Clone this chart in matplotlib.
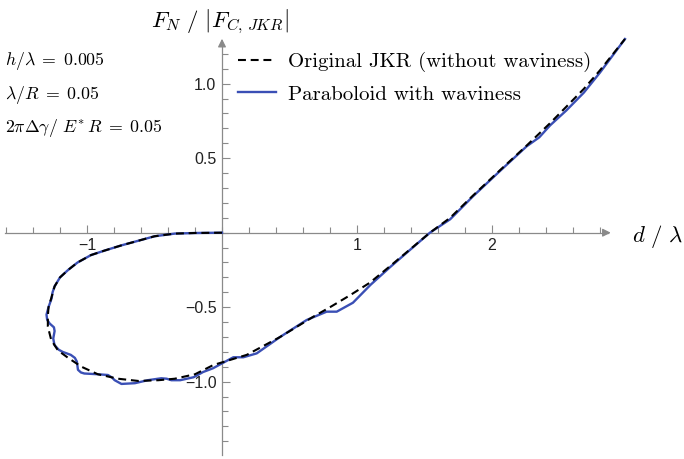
import numpy as np
import matplotlib
matplotlib.use("Agg")
import matplotlib.pyplot as plt
from matplotlib.ticker import FixedLocator

plt.rcParams['mathtext.fontset'] = 'cm'

# courbe JKR sans ondulation
d_jkr = [0.0, -0.20, -0.35, -0.50, -0.62, -0.745, -0.87, -0.97, -1.07, -1.14, -1.20,
         -1.24, -1.265, -1.285, -1.29, -1.29, -1.265, -1.215, -1.14, -1.04, -0.92,
         -0.77, -0.62, -0.47, -0.35, -0.20, -0.064, 0.183, 0.43, 0.676, 0.80,
         0.948, 1.096, 1.244, 1.393, 1.54, 1.69, 1.86, 2.06, 2.257, 2.43, 2.55,
         2.68, 2.80, 2.985]
f_jkr = [0.0, -0.002, -0.006, -0.024, -0.054, -0.085, -0.12, -0.15, -0.20, -0.25, -0.30,
         -0.36, -0.44, -0.50, -0.56, -0.63, -0.72, -0.79, -0.84, -0.90, -0.95,
         -0.98, -0.995, -0.99, -0.98, -0.95, -0.888, -0.82, -0.70, -0.564, -0.50,
         -0.42, -0.335, -0.225, -0.112, 0.0, 0.10, 0.25, 0.42, 0.585, 0.735, 0.845,
         0.965, 1.09, 1.30]

# paraboloide avec ondulation
d_wav = [0.0, -0.20, -0.35, -0.50, -0.62, -0.745, -0.87, -0.97, -1.07, -1.14, -1.20,
         -1.24, -1.255, -1.262, -1.285, -1.30, -1.295, -1.276, -1.245, -1.24, -1.25,
         -1.245, -1.24, -1.21, -1.18, -1.12, -1.09, -1.075, -1.067, -1.045, -1.02,
         -0.92, -0.845, -0.815, -0.795, -0.745, -0.645, -0.55, -0.45, -0.41, -0.375,
         -0.31, -0.21, -0.14, -0.067, 0.084, 0.158, 0.257, 0.43, 0.627, 0.775, 0.85,
         0.97, 1.10, 1.244, 1.393, 1.54, 1.69, 1.86, 2.06, 2.257, 2.35, 2.43, 2.55,
         2.68, 2.80, 2.985]
f_wav = [0.0, -0.002, -0.006, -0.024, -0.054, -0.085, -0.12, -0.15, -0.20, -0.25, -0.30,
         -0.36, -0.40, -0.44, -0.50, -0.55, -0.585, -0.61, -0.635, -0.66, -0.71,
         -0.735, -0.755, -0.785, -0.80, -0.82, -0.84, -0.865, -0.92, -0.938, -0.945,
         -0.95, -0.955, -0.972, -0.99, -1.015, -1.01, -0.99, -0.977, -0.98, -0.99,
         -0.99, -0.97, -0.935, -0.91, -0.836, -0.836, -0.81, -0.70, -0.586, -0.53, -0.53,
         -0.47, -0.35, -0.232, -0.115, 0.0, 0.09, 0.245, 0.415, 0.58, 0.64, 0.72, 0.82,
         0.94, 1.075, 1.30]

xticks = [-1, 1, 2]
xlabels = ['\u22121', '1', '2']
yticks = [-1.0, -0.5, 0.5, 1.0]
ylabels = ['\u22121.0', '\u22120.5', '0.5', '1.0']

W, H = 684, 459
fig = plt.figure(figsize=(W/100, H/100), dpi=100)
ax = fig.add_axes([0, 0, 1, 1])
ax.patch.set_alpha(0)
# 135 px par unite en x, 149 px en y, origine a (222, 232.7)
ax.set_xlim(-222/135, (W-222)/135)
ax.set_ylim((232.7-H)/149, 232.7/149)

axcol = '#8a8a8a'
ax.spines['top'].set_visible(False)
ax.spines['right'].set_visible(False)
ax.spines['bottom'].set_position('zero')
ax.spines['left'].set_position('zero')
ax.spines['bottom'].set_bounds(-1.61, 2.86)
ax.spines['left'].set_bounds(-1.49, 1.28)
for s in ['bottom', 'left']:
    ax.spines[s].set_color(axcol)
    ax.spines[s].set_linewidth(0.9)
ax.annotate('', xy=(2.90, 0), xytext=(2.82, 0),
            arrowprops=dict(arrowstyle='-|>', color=axcol, lw=0.9, mutation_scale=12))
ax.annotate('', xy=(0, 1.32), xytext=(0, 1.25),
            arrowprops=dict(arrowstyle='-|>', color=axcol, lw=0.9, mutation_scale=12))

ax.xaxis.set_major_locator(FixedLocator(xticks))
ax.set_xticklabels(xlabels)
ax.yaxis.set_major_locator(FixedLocator(yticks))
ax.set_yticklabels(ylabels)
ax.xaxis.set_minor_locator(FixedLocator(np.arange(-1.6, 2.81, 0.2)))
ax.yaxis.set_minor_locator(FixedLocator(np.arange(-1.4, 1.21, 0.1)))
ax.tick_params(which='both', direction='in', color=axcol, width=0.8,
               labelsize=11.5, labelcolor='#222222')
ax.tick_params(which='major', length=6, pad=4)
ax.tick_params(which='minor', length=4)
for lab in ax.get_xticklabels() + ax.get_yticklabels():
    lab.set_fontfamily('Liberation Sans')

ax.plot(d_wav, f_wav, color='#3a4fb5', lw=1.7, label='Paraboloid with waviness', zorder=3)
ax.plot(d_jkr, f_jkr, color='black', lw=1.5, ls=(0, (3.8, 2.3)),
        label='Original JKR (without waviness)', zorder=4)

h, l = ax.get_legend_handles_labels()
leg = ax.legend(h[::-1], l[::-1], loc='upper left', bbox_to_anchor=(238/W, 1-52/H),
                frameon=False, prop={'family': 'cmr10', 'size': 15},
                handlelength=1.8, handletextpad=0.6, labelspacing=0.62,
                borderaxespad=0, borderpad=0)

fig.text(220/W, 1-22/H, r'$F_{N}\ /\ |F_{C,\,JKR}|$', fontsize=16.5, ha='center', va='center')
fig.text(632/W, 1-236/H, r'$d\ /\ \lambda$', fontsize=16.5, ha='left', va='center')

fig.text(5/W, 1-61/H, r'$h/\lambda\;=\;0.005$', fontsize=12.8, ha='left', va='center')
fig.text(5/W, 1-95/H, r'$\lambda/R\;=\;0.05$', fontsize=12.8, ha='left', va='center')
fig.text(5/W, 1-128/H, r'$2\pi\Delta\gamma/\ E^{*}\,R\;=\;0.05$', fontsize=12.8, ha='left', va='center')

fig.savefig('out.png', dpi=100)
